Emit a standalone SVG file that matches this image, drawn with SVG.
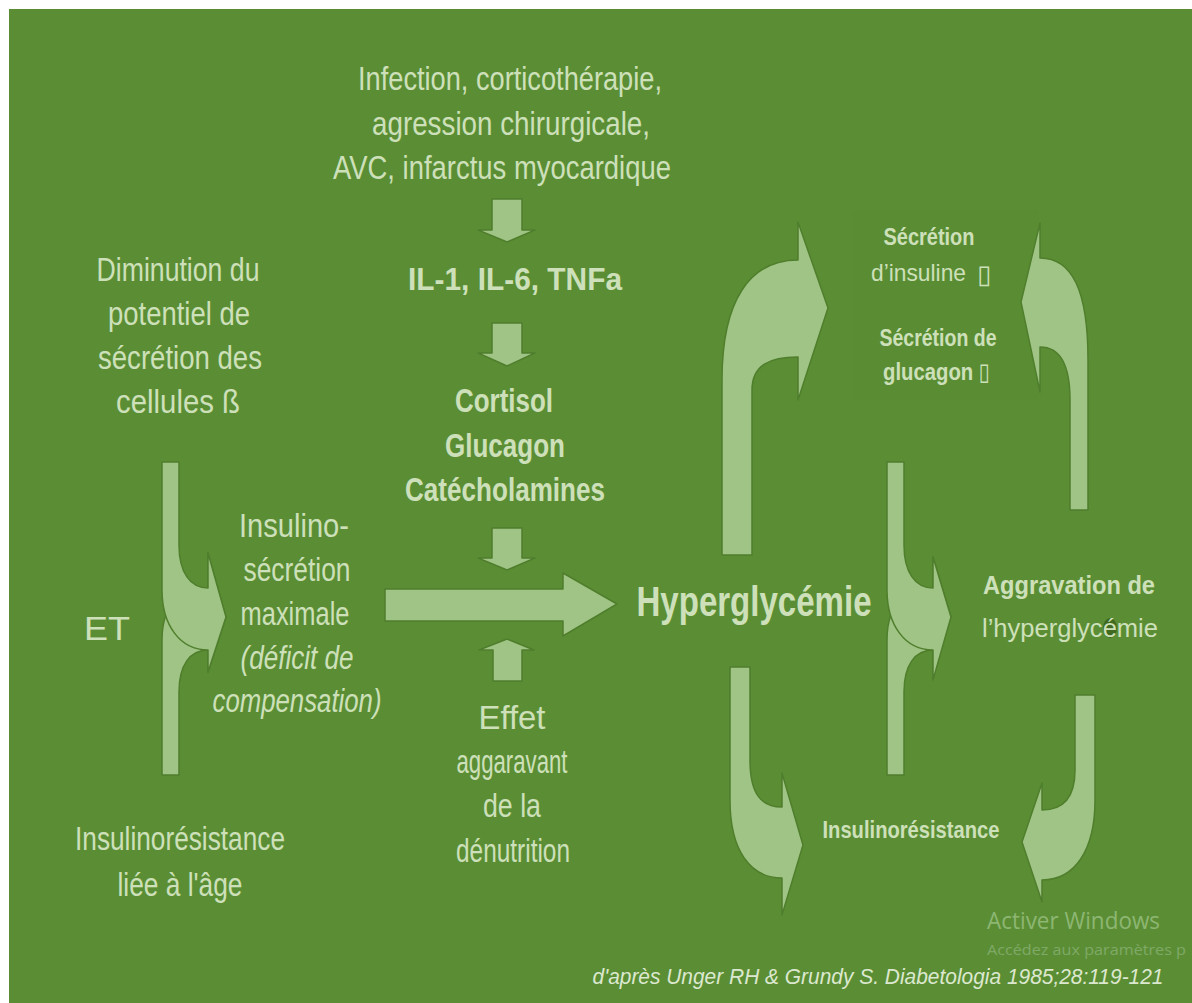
<svg xmlns="http://www.w3.org/2000/svg" width="1192" height="1003" viewBox="0 0 1192 1003">
<style>
  text { font-family: "Liberation Sans", Arial, "DejaVu Sans", sans-serif; fill: #cde0ba; text-anchor: middle; }
  .r { font-size: 33px; }
  .b { font-size: 34px; font-weight: bold; }
  .s { font-size: 24px; font-weight: bold; }
  .sr { font-size: 24px; text-anchor: start; }
  .box { font-family: "DejaVu Sans", sans-serif; font-size: 26px; text-anchor: start; }
  .arr { fill: #a0c485; stroke: #4f7e2c; stroke-width: 1.5; stroke-linejoin: round; }
  .wm { font-family: "Open Sans", "Noto Sans", sans-serif; fill: #8db673; text-anchor: start; }
</style>
<rect x="0" y="0" width="1192" height="1003" fill="#ffffff"/>
<rect x="9" y="9" width="1183" height="994" fill="#5b8e34"/>
<rect x="853" y="210" width="186" height="190" fill="#5a8c33" opacity="0.6"/>

<g id="connectors">
  <path class="arr" d="M492,199 H522 V230 H535 L507,242 L478,230 H492 Z"/>
  <path class="arr" d="M492,323 H522 V353 H535 L507,366 L478,353 H492 Z"/>
  <path class="arr" d="M492,528 H522 V558 H535 L507,570 L478,558 H492 Z"/>
  <path class="arr" d="M493,681 H522 V650 H534 L507,639 L479,650 H493 Z"/>
  <path class="arr" d="M385,589 H563 V573 L617,604 L563,636 V621 H385 Z"/>
  <path class="arr" d="M162,775 H179 V692 C179,665 190,650 208,650 V672 L226,617 L208,553 V588 C185,588 162,600 162,640 Z"/>
  <path class="arr" d="M162,462 H179 V545 C179,572 190,588 208,588 V553 L226,617 L208,672 V650 C180,650 162,625 162,590 Z"/>
  <path class="arr" d="M887,775 H904 V692 C904,665 915,650 933,650 V672 L951,617 L933,557 V588 C910,588 887,600 887,640 Z"/>
  <path class="arr" d="M887,462 H904 V545 C904,572 915,588 933,588 V557 L951,617 L933,680 V650 C905,650 887,625 887,590 Z"/>
  <path class="arr" d="M722,555 V380 C722,300 750,260 798,260 V222 L828,308 L798,400 V357 C770,357 752,365 752,390 V555 Z"/>
  <path class="arr" d="M1070,510 V400 C1070,365 1060,347 1040,347 V392 L1021,302 L1040,223 V258 C1072,258 1088,290 1088,360 V510 Z"/>
  <path class="arr" d="M730,667 H750 V760 C750,795 762,807 782,807 V773 L803,845 L782,915 V878 C750,878 730,850 730,800 Z"/>
  <path class="arr" d="M1075,695 H1095 V800 C1095,850 1075,880 1042,880 V902 L1022,842 L1042,783 V810 C1065,810 1075,795 1075,770 Z"/>
</g>

<g id="n-causes">
  <text class="r" x="510" y="90" textLength="304" lengthAdjust="spacingAndGlyphs">Infection, corticothérapie,</text>
  <text class="r" x="511" y="135" textLength="278" lengthAdjust="spacingAndGlyphs">agression chirurgicale,</text>
  <text class="r" x="502" y="179" textLength="338" lengthAdjust="spacingAndGlyphs">AVC, infarctus myocardique</text>
</g>
<g id="n-il">
  <text x="515" y="290" style="font-size:32px;font-weight:bold" textLength="214" lengthAdjust="spacingAndGlyphs">IL-1, IL-6, TNFa</text>
</g>
<g id="n-hormones">
  <text class="b" x="504" y="412" textLength="98" lengthAdjust="spacingAndGlyphs">Cortisol</text>
  <text class="b" x="505" y="457" textLength="120" lengthAdjust="spacingAndGlyphs">Glucagon</text>
  <text class="b" x="505" y="501" textLength="200" lengthAdjust="spacingAndGlyphs">Catécholamines</text>
</g>
<g id="n-denutrition">
  <text class="r" x="512" y="729" textLength="67" lengthAdjust="spacingAndGlyphs">Effet</text>
  <text class="r" x="512" y="773" textLength="111" lengthAdjust="spacingAndGlyphs">aggaravant</text>
  <text class="r" x="512" y="817" textLength="58" lengthAdjust="spacingAndGlyphs">de la</text>
  <text class="r" x="513" y="862" textLength="114" lengthAdjust="spacingAndGlyphs">dénutrition</text>
</g>
<g id="n-diminution">
  <text class="r" x="178" y="281" textLength="163" lengthAdjust="spacingAndGlyphs">Diminution du</text>
  <text class="r" x="179" y="325" textLength="142" lengthAdjust="spacingAndGlyphs">potentiel de</text>
  <text class="r" x="180" y="369" textLength="164" lengthAdjust="spacingAndGlyphs">sécrétion des</text>
  <text class="r" x="178" y="413" textLength="124" lengthAdjust="spacingAndGlyphs">cellules ß</text>
</g>
<g id="n-et">
  <text class="r" x="107" y="640" textLength="46" lengthAdjust="spacingAndGlyphs">ET</text>
</g>
<g id="n-insulinoresistance-age">
  <text class="r" x="180" y="850" textLength="210" lengthAdjust="spacingAndGlyphs">Insulinorésistance</text>
  <text class="r" x="180" y="896" textLength="125" lengthAdjust="spacingAndGlyphs">liée à l'âge</text>
</g>
<g id="n-insulinosecretion">
  <text class="r" x="294" y="537" textLength="110" lengthAdjust="spacingAndGlyphs">Insulino-</text>
  <text class="r" x="297" y="581" textLength="107" lengthAdjust="spacingAndGlyphs">sécrétion</text>
  <text class="r" x="295" y="625" textLength="109" lengthAdjust="spacingAndGlyphs">maximale</text>
  <text class="r" x="297" y="669" font-style="italic" textLength="113" lengthAdjust="spacingAndGlyphs">(déficit de</text>
  <text class="r" x="297" y="712" font-style="italic" textLength="169" lengthAdjust="spacingAndGlyphs">compensation)</text>
</g>
<g id="n-hyperglycemie">
  <text x="754" y="616" style="font-size:43px;font-weight:bold" textLength="235" lengthAdjust="spacingAndGlyphs">Hyperglycémie</text>
</g>
<g id="n-secretion">
  <text class="s" x="929" y="245" textLength="91" lengthAdjust="spacingAndGlyphs">Sécrétion</text>
  <text class="sr" x="871" y="281" textLength="95" lengthAdjust="spacingAndGlyphs">d’insuline</text>
  <text class="box" x="977" y="283">▯</text>
  <text class="s" x="938" y="346" textLength="117" lengthAdjust="spacingAndGlyphs">Sécrétion de</text>
  <text class="s" style="text-anchor:start" x="883" y="380" textLength="107" lengthAdjust="spacingAndGlyphs">glucagon ▯</text>
</g>
<g id="n-aggravation">
  <text class="s" x="1069" y="594" style="font-size:26px" textLength="172" lengthAdjust="spacingAndGlyphs">Aggravation de</text>
  <ellipse cx="1110" cy="628" rx="7" ry="10" fill="#3f6a20"/>
  <text class="sr" x="982" y="637" style="font-size:26px" textLength="176" lengthAdjust="spacingAndGlyphs">l’hyperglycémie</text>
</g>
<g id="n-insulinoresistance">
  <text class="s" x="911" y="838" textLength="177" lengthAdjust="spacingAndGlyphs">Insulinorésistance</text>
</g>
<g id="watermark">
  <text class="wm" x="987" y="929" style="font-size:24px" textLength="173" lengthAdjust="spacingAndGlyphs">Activer Windows</text>
  <text class="wm" x="987" y="955" style="font-size:15px;fill:#7fa967" textLength="199" lengthAdjust="spacingAndGlyphs">Accédez aux paramètres p</text>
</g>
<g id="citation">
  <text x="878" y="984" style="font-size:22px;font-style:italic;fill:#dbe8cf" textLength="571" lengthAdjust="spacingAndGlyphs">d'après Unger RH &amp; Grundy S. Diabetologia 1985;28:119-121</text>
</g>
</svg>
